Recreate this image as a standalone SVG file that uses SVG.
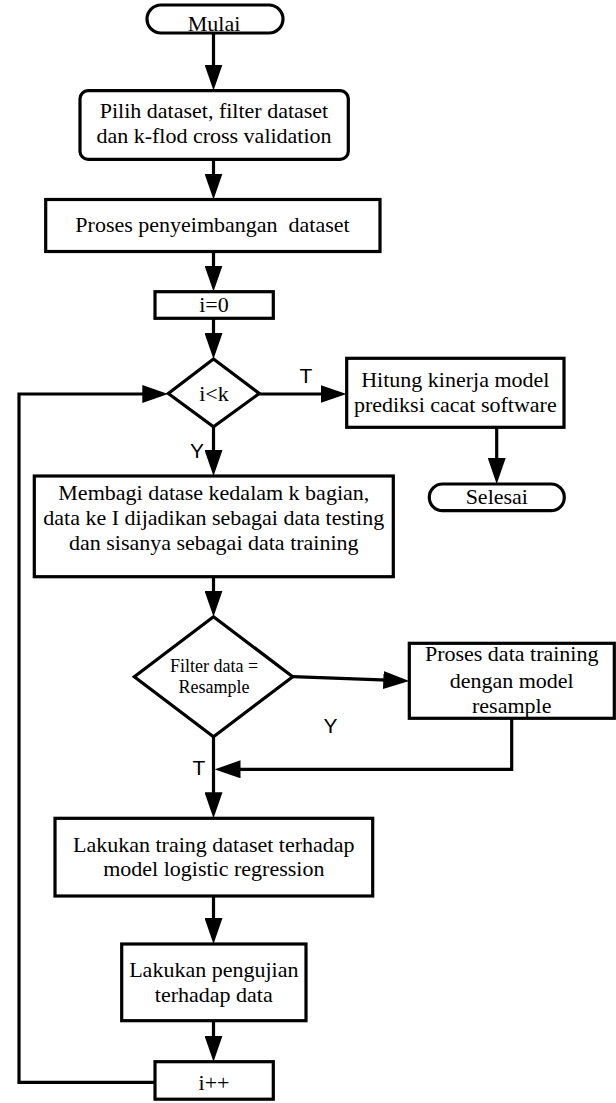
<svg xmlns="http://www.w3.org/2000/svg" width="616" height="1103" viewBox="0 0 616 1103">
<style>
.box{fill:#fff;stroke:#000;stroke-width:3.2;stroke-linejoin:miter}
.ln{fill:none;stroke:#000;stroke-width:3.2;stroke-linejoin:miter}
.t{font-family:"Liberation Serif","Times New Roman",serif;font-size:22px;fill:#000;text-anchor:middle}
.ts{font-family:"Liberation Serif","Times New Roman",serif;font-size:18px;fill:#000;text-anchor:middle}
.lb{font-family:"Liberation Sans",Arial,sans-serif;font-size:21px;fill:#000;text-anchor:middle}
</style>
<defs>
<marker id="ah" markerUnits="userSpaceOnUse" markerWidth="26" markerHeight="18" viewBox="0 0 26 18" refX="18" refY="9" orient="auto">
<path d="M0,0 L26,9 L0,18 z" fill="#000"/>
</marker>
</defs>
<rect width="616" height="1103" fill="#fff"/>
<g id="connectors">
<line class="ln" x1="213.5" y1="33" x2="213.5" y2="82.5" marker-end="url(#ah)"/>
<line class="ln" x1="213.5" y1="159" x2="213.5" y2="191.5" marker-end="url(#ah)"/>
<line class="ln" x1="213.5" y1="251.5" x2="213.5" y2="283.5" marker-end="url(#ah)"/>
<line class="ln" x1="213.5" y1="318.5" x2="213.5" y2="351" marker-end="url(#ah)"/>
<line class="ln" x1="259.3" y1="394" x2="338.5" y2="394" marker-end="url(#ah)"/>
<line class="ln" x1="496.7" y1="427" x2="496.7" y2="476" marker-end="url(#ah)"/>
<line class="ln" x1="213.5" y1="426.7" x2="213.5" y2="468" marker-end="url(#ah)"/>
<line class="ln" x1="213.5" y1="576.7" x2="213.5" y2="608.7" marker-end="url(#ah)"/>
<line class="ln" x1="292.7" y1="676.7" x2="401.3" y2="680.7" marker-end="url(#ah)"/>
<polyline class="ln" points="511.7,718.3 511.7,769.3 222.5,769.3" marker-end="url(#ah)"/>
<line class="ln" x1="213.5" y1="736.7" x2="213.5" y2="810.3" marker-end="url(#ah)"/>
<line class="ln" x1="213.5" y1="896" x2="213.5" y2="936" marker-end="url(#ah)"/>
<line class="ln" x1="213.5" y1="1020.7" x2="213.5" y2="1053.7" marker-end="url(#ah)"/>
<polyline class="ln" points="155,1082.3 19,1082.3 19,394 160.3,394" marker-end="url(#ah)"/>
<text class="lb" x="306" y="383">T</text>
<text class="lb" x="197" y="458">Y</text>
<text class="lb" x="330.5" y="733">Y</text>
<text class="lb" x="199" y="775">T</text>
</g>
<g id="mulai">
<rect class="box" x="147" y="5" width="136" height="28" rx="14" ry="14"/>
<text class="t" x="214" y="30.5">Mulai</text>
</g>
<g id="pilih">
<rect class="box" x="80" y="90.7" width="268.3" height="68.6" rx="8" ry="8"/>
<text class="t" x="214" y="118.3">Pilih dataset, filter dataset</text>
<text class="t" x="214" y="143.3">dan k-flod cross validation</text>
</g>
<g id="penyeimbangan">
<rect class="box" x="45.7" y="199.5" width="334.3" height="52"/>
<text class="t" x="212.5" y="231.7" xml:space="preserve">Proses penyeimbangan  dataset</text>
</g>
<g id="i0">
<rect class="box" x="155" y="291.7" width="118.3" height="26.6"/>
<text class="t" x="214" y="312.3">i=0</text>
</g>
<g id="cek">
<polygon class="box" points="213.5,359 259.3,393.5 213.5,426.7 168.3,393.5"/>
<text class="t" x="214" y="400.7">i&lt;k</text>
</g>
<g id="hitung">
<rect class="box" x="346.7" y="358.3" width="217.3" height="69"/>
<text class="t" x="455.3" y="386.7">Hitung kinerja model</text>
<text class="t" x="455.3" y="411.7">prediksi cacat software</text>
</g>
<g id="selesai">
<rect class="box" x="429.3" y="484" width="135" height="26.7" rx="13.3" ry="13.3"/>
<text class="t" x="496.8" y="504">Selesai</text>
</g>
<g id="membagi">
<rect class="box" x="34.3" y="476" width="359" height="100.7"/>
<text class="t" x="213.8" y="500">Membagi datase kedalam k bagian,</text>
<text class="t" x="213.8" y="525">data ke I dijadikan sebagai data testing</text>
<text class="t" x="213.8" y="550">dan sisanya sebagai data training</text>
</g>
<g id="filter">
<polygon class="box" points="213.5,616.7 292.7,676.7 213.5,736.7 134.3,676.7"/>
<text class="ts" x="214" y="671.7">Filter data =</text>
<text class="ts" x="214" y="693.3">Resample</text>
</g>
<g id="resample">
<rect class="box" x="409.3" y="643.3" width="205" height="75"/>
<text class="t" x="511.7" y="661">Proses data training</text>
<text class="t" x="511.7" y="688.3">dengan model</text>
<text class="t" x="511.7" y="713.3">resample</text>
</g>
<g id="training">
<rect class="box" x="55" y="818.3" width="317.7" height="77.7"/>
<text class="t" x="213.8" y="851.7">Lakukan traing dataset terhadap</text>
<text class="t" x="213.8" y="876">model logistic regression</text>
</g>
<g id="pengujian">
<rect class="box" x="121.7" y="944" width="184.3" height="76.7"/>
<text class="t" x="213.8" y="976.7">Lakukan pengujian</text>
<text class="t" x="213.8" y="1001.7">terhadap data</text>
</g>
<g id="inc">
<rect class="box" x="155" y="1061.7" width="118.3" height="37.5"/>
<text class="t" x="214" y="1090">i++</text>
</g>
</svg>
